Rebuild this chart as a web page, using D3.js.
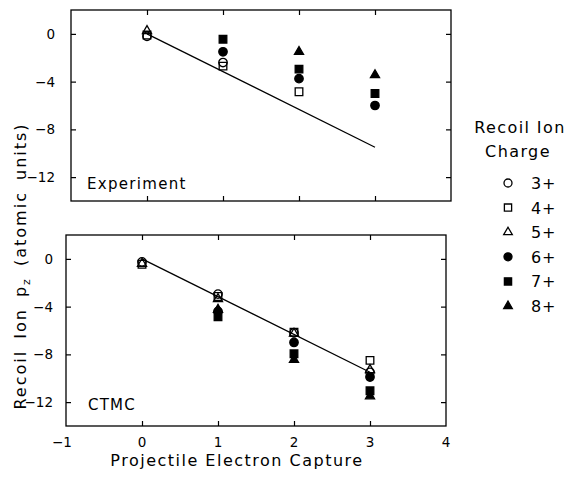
<!DOCTYPE html>
<html>
<head>
<meta charset="utf-8">
<script src="https://cdn.jsdelivr.net/npm/d3@7"></script>
<style>
body { margin: 0; background: #fff; }
text { font-family: "DejaVu Sans", "Liberation Sans", sans-serif; fill: #000; }
</style>
</head>
<body>
<div id="chart"></div>
<script>
// data
var captures = [0, 1, 2, 3];
var charges = ["3+", "4+", "5+", "6+", "7+", "8+"];
var shapes = ["circle", "square", "triangle", "circle", "square", "triangle"];
var filled = [false, false, false, true, true, true];
var xTicks = [-1, 0, 1, 2, 3, 4];
var yTicks = [0, -4, -8, -12];
var fitX = [0, 3];
var fitY = [0, -9.5];

// Experiment, one array per recoil charge (null = not shown)
var exp3 = [-0.2, -2.4, null, null];
var exp4 = [-0.1, -2.7, -4.85, null];
var exp5 = [0.25, null, null, null];
var exp6 = [null, -1.5, -3.75, -6.0];
var exp7 = [null, -0.45, -2.95, -5.0];
var exp8 = [null, null, -1.5, -3.45];

// CTMC
var ctmc3 = [-0.25, -2.95, -6.2, -9.5];
var ctmc4 = [-0.45, -3.15, -6.15, -8.5];
var ctmc5 = [-0.4, -3.35, -6.25, -9.3];
var ctmc6 = [null, -4.4, -7.0, -9.9];
var ctmc7 = [null, -4.85, -7.95, -11.05];
var ctmc8 = [null, -4.25, -8.45, -11.5];

var expSeries = [exp3, exp4, exp5, exp6, exp7, exp8];
var ctmcSeries = [ctmc3, ctmc4, ctmc5, ctmc6, ctmc7, ctmc8];

var width = 573, height = 478;
var svg = d3.select("#chart").append("svg").attr("width", width).attr("height", height);

var symType = { circle: d3.symbolCircle, square: d3.symbolSquare, triangle: d3.symbolTriangle };
var symSize = { circle: 56, square: 58, triangle: 36 };
function sym(shape, k) { return d3.symbol().type(symType[shape]).size(symSize[shape] * (k || 1))(); }

// the scan is a bit skewed, so each panel gets its own box
var panels = [
    { name: "Experiment", series: expSeries, x0: 71, x1: 451, y0: 10, y1: 201, lx: 87, ly: 189, yl: 55, ls: 1.3 },
    { name: "CTMC", series: ctmcSeries, x0: 66, x1: 446, y0: 235, y1: 426, lx: 88, ly: 410, yl: 53, ls: 1.2 }
];

panels.forEach(function(p, pi) {
    var x = d3.scaleLinear().domain([-1, 4]).range([p.x0, p.x1]);
    var y = d3.scaleLinear().domain([-14, 2]).range([p.y1, p.y0]);
    var g = svg.append("g");

    g.append("rect").attr("x", p.x0).attr("y", p.y0).attr("width", p.x1 - p.x0).attr("height", p.y1 - p.y0)
        .attr("fill", "none").attr("stroke", "#000").attr("stroke-width", 1.3);

    // inward ticks on all four sides
    var ax = [
        d3.axisBottom(x).tickValues(captures).tickSize(-5).tickFormat(""),
        d3.axisTop(x).tickValues(captures).tickSize(-5).tickFormat(""),
        d3.axisLeft(y).tickValues(yTicks).tickSize(-5).tickFormat(""),
        d3.axisRight(y).tickValues(yTicks).tickSize(-5).tickFormat("")
    ];
    var tr = ["translate(0," + p.y1 + ")", "translate(0," + p.y0 + ")", "translate(" + p.x0 + ",0)", "translate(" + p.x1 + ",0)"];
    ax.forEach(function(a, i) {
        var ga = g.append("g").attr("transform", tr[i]).call(a);
        ga.select(".domain").remove();
        ga.selectAll("line").attr("stroke-width", 1.2);
    });

    // y tick labels
    g.selectAll(".yl").data(yTicks).enter().append("text")
        .attr("x", p.yl).attr("y", d => y(d) + 5).attr("text-anchor", "end").attr("font-size", 13.5)
        .text(d => d == 0 ? "0" : "\u2212" + Math.abs(d));

    // x tick labels under the lower panel only
    if (pi == 1) {
        g.selectAll(".xl").data(xTicks).enter().append("text")
            .attr("x", d => x(d) + (d < 0 ? -4 : 0)).attr("y", 447).attr("text-anchor", "middle").attr("font-size", 13.5)
            .text(d => d < 0 ? "\u2212" + Math.abs(d) : d);
    }

    g.append("path").datum(fitX.map((d, i) => [d, fitY[i]]))
        .attr("d", d3.line().x(d => x(d[0])).y(d => y(d[1])))
        .attr("fill", "none").attr("stroke", "#000").attr("stroke-width", 1.3);

    // filled charges first, open ones on top
    [3, 4, 5, 0, 1, 2].forEach(function(c) {
        var pts = captures.map((cx, i) => [cx, p.series[c][i]]).filter(d => d[1] != null);
        g.selectAll(".m" + c).data(pts).enter().append("path")
            .attr("transform", d => "translate(" + x(d[0]) + "," + y(d[1]) + ")")
            .attr("d", sym(shapes[c]))
            .attr("fill", filled[c] ? "#000" : "none").attr("stroke", "#000").attr("stroke-width", 1.3);
    });

    g.append("text").attr("x", p.lx).attr("y", p.ly).attr("font-size", 15).attr("letter-spacing", p.ls).text(p.name);
});

// axis titles
svg.append("text").attr("x", 237).attr("y", 466).attr("text-anchor", "middle").attr("font-size", 16)
    .attr("letter-spacing", 1.5).text("Projectile Electron Capture");

var yt = svg.append("text").attr("transform", "translate(26,266) rotate(-90)").attr("text-anchor", "middle")
    .attr("font-size", 16).attr("letter-spacing", 2).attr("word-spacing", 4);
yt.append("tspan").text("Recoil Ion p");
yt.append("tspan").attr("font-size", 11).attr("dy", 4).text("z");
yt.append("tspan").attr("dy", -4).text("  (atomic units)");

// legend
svg.append("text").attr("x", 520).attr("y", 133).attr("text-anchor", "middle").attr("font-size", 16)
    .attr("letter-spacing", 1.4).text("Recoil Ion");
svg.append("text").attr("x", 518).attr("y", 157).attr("text-anchor", "middle").attr("font-size", 16)
    .attr("letter-spacing", 1.4).text("Charge");

var ly = d3.scalePoint().domain(charges).range([183, 306]);
var leg = svg.selectAll(".leg").data(charges).enter().append("g")
    .attr("transform", d => "translate(0," + ly(d) + ")");
leg.append("path").attr("transform", "translate(508,0)")
    .attr("d", (d, i) => sym(shapes[i], 0.9))
    .attr("fill", (d, i) => filled[i] ? "#000" : "none").attr("stroke", "#000").attr("stroke-width", 1.3);
leg.append("text").attr("x", 531).attr("y", 6).attr("font-size", 16).attr("letter-spacing", 0.8).text(d => d);
</script>
</body>
</html>
